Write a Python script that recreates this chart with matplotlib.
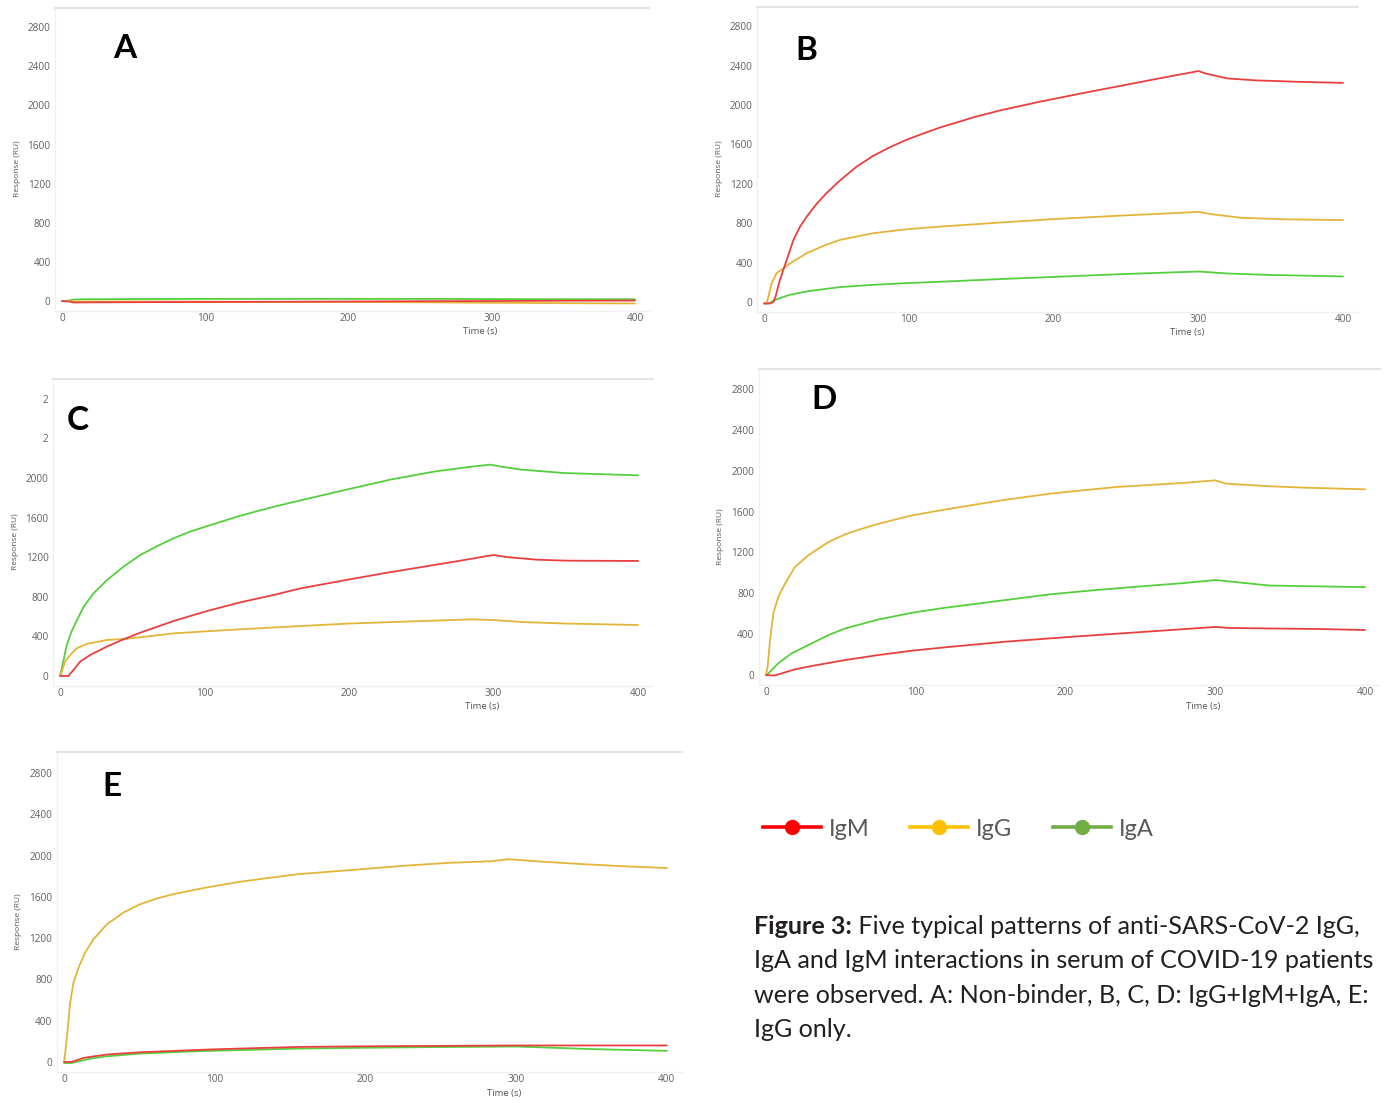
import matplotlib
matplotlib.use("Agg")
import matplotlib.pyplot as plt
from matplotlib.lines import Line2D

W, H = 1389, 1103

# ---------------- data ----------------
# Panel A (non-binder)
tA = [0, 5, 8, 15, 50, 100, 150, 200, 250, 300, 350, 400]
A_igm = [0, -5, -15, -14, -12, -10, -8, -5, -2, 0, 3, 5]
A_igg = [0, 0, -5, -5, -5, -6, -8, -10, -13, -18, -22, -25]
A_iga = [0, 5, 15, 18, 20, 22, 22, 22, 22, 20, 18, 18]

# Panel B
tB_igm = [0, 4, 6.4, 8, 11, 15.7, 20.3, 24.9, 29.5, 36.4, 43.3, 52.5, 64, 75.5, 87, 98.6, 110, 121.6, 133,
          144.6, 163, 191, 220, 250, 280, 295, 300, 305, 320, 340, 370, 400]
B_igm = [-15, -15, 0, 60, 226, 429, 631, 766, 867, 998, 1108, 1235, 1375, 1485, 1572, 1648, 1711, 1772, 1822,
         1875, 1945, 2035, 2120, 2205, 2290, 2330, 2345, 2320, 2270, 2250, 2235, 2225]
tB_igg = [0, 2, 5.3, 8.7, 13.4, 20, 29.5, 41, 52.5, 75.5, 98.6, 121.6, 163, 200, 250, 280, 300, 310, 330, 360, 400]
B_igg = [-10, -5, 192, 294, 344, 412, 496, 570, 631, 699, 739, 766, 807, 842, 880, 900, 915, 890, 855, 840, 832]
tB_iga = [0, 4, 6.4, 11, 18, 29.5, 52.5, 75.5, 98.6, 121.6, 163, 200, 250, 300, 320, 350, 400]
B_iga = [-15, -10, 13, 40, 74, 108, 152, 175, 192, 206, 233, 255, 285, 310, 290, 275, 260]

# Panel C
tC_igm = [0, 5.8, 9.3, 13.9, 20.8, 32.4, 44, 55.6, 78.7, 101.9, 125, 148, 166.7, 200, 225, 250, 275, 295, 300,
          310, 330, 350, 400]
C_igm = [0, 0, 61, 145, 212, 297, 371, 438, 556, 657, 745, 819, 886, 975, 1040, 1100, 1160, 1210, 1222,
         1200, 1175, 1165, 1162]
tC_igg = [0, 1.2, 3.5, 7, 11.6, 18.5, 32.4, 44, 55.6, 78.7, 101.9, 125, 166.7, 200, 250, 285, 300, 320, 350, 400]
C_igg = [0, 44, 145, 212, 280, 324, 364, 374, 391, 431, 452, 472, 505, 530, 555, 572, 565, 545, 530, 515]
tC_iga = [0, 2.3, 4.6, 8.1, 11.6, 16.2, 23, 32.4, 44, 55.6, 67, 78.7, 90, 101.9, 125, 148, 166.7, 199, 229, 259,
          285, 298, 305, 319, 349, 400]
C_iga = [0, 150, 310, 455, 560, 695, 832, 968, 1105, 1223, 1310, 1392, 1459, 1515, 1620, 1710, 1775, 1885, 1985,
         2065, 2115, 2135, 2115, 2085, 2050, 2027]

# Panel D
tD_igm = [0, 5, 7, 19.3, 30.4, 52.7, 74.9, 97, 119, 159, 200, 240, 280, 300, 310, 340, 370, 400]
D_igm = [0, -5, 0, 55, 88, 146, 195, 237, 270, 325, 370, 410, 450, 470, 460, 455, 450, 440]
tD_igg = [0, 1.1, 2.7, 4.9, 8.2, 12.7, 19.3, 28.2, 41.6, 52.7, 63.8, 74.9, 97, 119, 159, 190, 234, 278, 295,
          300, 307, 336, 360, 400]
D_igg = [0, 81, 341, 602, 764, 894, 1057, 1171, 1301, 1376, 1431, 1480, 1561, 1619, 1714, 1776, 1841, 1880, 1900,
         1906, 1874, 1848, 1834, 1818]
tD_iga = [0, 1.6, 8.2, 17, 30.4, 41.6, 52.7, 74.9, 97, 119, 159, 190, 219, 249, 278, 297, 300, 336, 400]
D_iga = [0, 16, 114, 211, 309, 390, 455, 543, 608, 657, 732, 790, 830, 866, 899, 925, 930, 876, 860]

# Panel E
tE_igg = [0, 0.7, 2.2, 4, 6.2, 9.5, 13.9, 19.4, 28.3, 39.3, 50.3, 61.4, 72.4, 94.5, 116.6, 138.6, 156, 195, 224,
          254, 283, 295, 300, 313, 342, 372, 400]
E_igg = [0, 81, 276, 569, 764, 911, 1057, 1187, 1333, 1447, 1528, 1584, 1626, 1691, 1746, 1789, 1821, 1865, 1900,
         1929, 1945, 1965, 1960, 1945, 1919, 1896, 1880]
tE_igm = [0, 5, 6.2, 12.8, 17.2, 28.3, 50.3, 72.4, 94.5, 116.6, 156, 200, 250, 300, 350, 400]
E_igm = [0, 0, 6, 39, 49, 72, 94, 107, 120, 130, 146, 152, 156, 160, 160, 160]
tE_iga = [0, 5, 8, 17.2, 28.3, 50.3, 72.4, 94.5, 116.6, 156, 200, 250, 300, 350, 400]
E_iga = [-10, -10, 0, 32, 55, 81, 95, 107, 115, 130, 138, 145, 150, 125, 108]

y_ticks = [0, 400, 800, 1200, 1600, 2000, 2400, 2800]
y_labels = ["0", "400", "800", "1200", "1600", "2000", "2400", "2800"]
y_labels_C = ["0", "400", "800", "1200", "1600", "2000", "2", "2"]
x_ticks = [0, 100, 200, 300, 400]
x_labels = ["0", "100", "200", "300", "400"]

legend_names = ["IgM", "IgG", "IgA"]
caption_bold = "Figure 3:"
caption_lines = [" Five typical patterns of anti-SARS-CoV-2 IgG,",
                 "IgA and IgM interactions in serum of COVID-19 patients",
                 "were observed. A: Non-binder, B, C, D: IgG+IgM+IgA, E:",
                 "IgG only."]

# ---------------- styles ----------------
c_red, c_yel, c_grn = "#e8403f", "#e2b53a", "#55cf3c"
leg_red, leg_yel, leg_grn = "#ff0000", "#ffc000", "#70ad47"
tick_font = "Open Sans"
cap_font = "Lato"

fig = plt.figure(figsize=(W / 100, H / 100), dpi=100)
fig.patch.set_facecolor("white")


def px_rect(l, t, r, b):
    return [l / W, 1 - b / H, (r - l) / W, (b - t) / H]


panels = {
    "A": dict(rect=(54.8, 7.7, 649.3, 310.8), letter=(125, 48),
              series=[(tA, A_iga, c_grn), (tA, A_igg, c_yel), (tA, A_igm, c_red)]),
    "B": dict(rect=(756.8, 6.5, 1357.5, 311.9), letter=(806, 50),
              series=[(tB_iga, B_iga, c_grn), (tB_igg, B_igg, c_yel), (tB_igm, B_igm, c_red)]),
    "C": dict(rect=(52.8, 379, 652.5, 685.9), letter=(78, 421),
              series=[(tC_iga, C_iga, c_grn), (tC_igg, C_igg, c_yel), (tC_igm, C_igm, c_red)]),
    "D": dict(rect=(758.5, 368.6, 1380, 685.2), letter=(824, 400),
              series=[(tD_iga, D_iga, c_grn), (tD_igg, D_igg, c_yel), (tD_igm, D_igm, c_red)]),
    "E": dict(rect=(56.5, 752.4, 682, 1072.3), letter=(112, 787),
              series=[(tE_iga, E_iga, c_grn), (tE_igg, E_igg, c_yel), (tE_igm, E_igm, c_red)]),
}

for name, p in panels.items():
    l, t, r, b = p["rect"]
    ax = fig.add_axes(px_rect(l, t, r, b))
    for xs, ys, col in p["series"]:
        ax.plot(xs, ys, color=col, lw=1.3, solid_joinstyle="round", solid_capstyle="round")
    ax.set_xlim(-5, 410)
    ax.set_ylim(-100, 3000)
    ax.set_yticks(y_ticks)
    ax.set_yticklabels(y_labels_C if name == "C" else y_labels)
    ax.set_xticks(x_ticks)
    ax.set_xticklabels(x_labels)
    ax.tick_params(length=0, labelsize=7.2, labelcolor="#606060")
    ax.tick_params(axis="y", pad=3)
    ax.tick_params(axis="x", pad=1.5)
    for lab in ax.get_xticklabels() + ax.get_yticklabels():
        lab.set_fontfamily(tick_font)
    ax.spines["right"].set_visible(False)
    ax.spines["top"].set_color("#e4e4e4")
    ax.spines["top"].set_linewidth(1.5)
    for s in ["left", "bottom"]:
        ax.spines[s].set_color("#f0f0f0")
        ax.spines[s].set_linewidth(1.0)
    hpx = b - t
    wpx = r - l
    ax.set_xlabel("Time (s)", fontsize=6.8, color="#555555", family=tick_font)
    ax.xaxis.set_label_coords(0.716, -16.5 / hpx)
    ax.set_ylabel("Response (RU)", fontsize=6.0, color="#555555", family=tick_font)
    ax.yaxis.set_label_coords(-34.0 / wpx, 0.47)
    lx, ly = p["letter"]
    fig.text(lx / W, 1 - ly / H, name, fontsize=24, fontweight="bold", family="Lato",
             ha="center", va="center", color="black")

# ---------------- legend ----------------
handles = [Line2D([], [], color=c, lw=2.6, marker="o", markersize=10,
                  markerfacecolor=c, markeredgecolor=c)
           for c in (leg_red, leg_yel, leg_grn)]
leg = fig.legend(handles, legend_names, loc="center left",
                 bbox_to_anchor=(763 / W, 1 - 829 / H), ncol=3, frameon=False,
                 prop=dict(family=cap_font, size=17), handlelength=2.45,
                 handletextpad=0.34, columnspacing=1.72, borderpad=0, borderaxespad=0)
for txt in leg.get_texts():
    txt.set_color("#595959")

# ---------------- caption ----------------
fig.canvas.draw()
renderer = fig.canvas.get_renderer()
probe = fig.text(0, 0, caption_lines[1], fontsize=10, family=cap_font)
w10 = probe.get_window_extent(renderer).width
probe.remove()
cap_size = 10 * 621.0 / w10

baselines = [934, 968, 1003, 1037]
x0 = 754
tb = fig.text(x0 / W, 1 - baselines[0] / H, caption_bold, fontsize=cap_size,
              family=cap_font, fontweight="bold", color="#231f20", va="baseline")
bw = tb.get_window_extent(renderer).width
fig.text((x0 + bw) / W, 1 - baselines[0] / H, caption_lines[0], fontsize=cap_size,
         family=cap_font, color="#231f20", va="baseline")
for line, yb in zip(caption_lines[1:], baselines[1:]):
    fig.text(x0 / W, 1 - yb / H, line, fontsize=cap_size, family=cap_font,
             color="#231f20", va="baseline")

fig.savefig("out.png", dpi=100, facecolor="white")
